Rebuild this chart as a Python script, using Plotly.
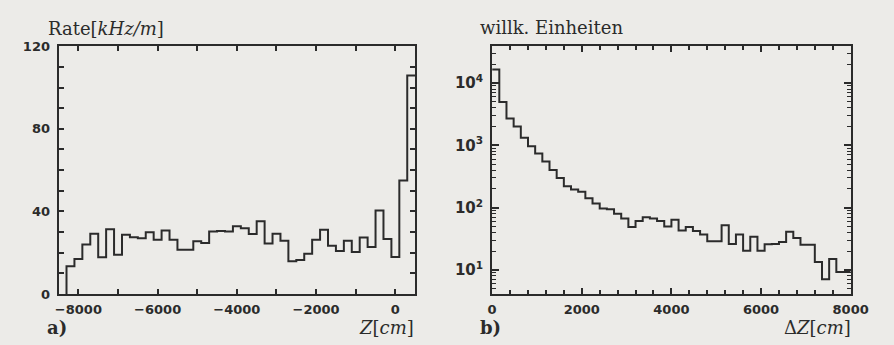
import plotly.graph_objects as go

# ---- Panel a: rate vs Z ----
a_bin_start = -8300
a_bin_width = 200
a_rates = [13.4, 16.9, 24.0, 29.2, 17.8, 31.4, 19.0, 28.7, 27.5, 27.0, 29.9, 26.3,
           30.7, 26.2, 21.4, 21.4, 25.5, 24.7, 30.2, 30.5, 30.2, 32.8, 31.8, 29.1,
           35.2, 24.4, 29.2, 25.8, 15.8, 16.5, 19.5, 26.2, 31.1, 23.4, 20.8, 25.8,
           20.3, 27.4, 22.7, 40.4, 26.6, 17.9, 55.0, 105.8]
a_xticks = [-8000, -6000, -4000, -2000, 0]
a_yticks = [0, 40, 80, 120]

# ---- Panel b: Delta Z distribution (log) ----
b_bin_start = 0
b_bin_width = 160
b_counts = [16500, 4940, 2690, 2000, 1320, 966, 737, 550, 400, 298,
            220, 195, 180, 142, 116, 97, 94, 80, 67, 49,
            61, 70, 67, 61, 50, 64, 43, 49, 42, 37,
            29, 29, 52, 26, 37, 20.3, 34, 20.3, 25.8, 26.0,
            28, 41, 32.7, 25.5, 25.5, 13.4, 7.1, 15.0, 9.3, 9.3]
b_xticks = [0, 2000, 4000, 6000, 8000]
b_yticks = [10, 100, 1000, 10000]
b_yticklabels = ["10<sup>1</sup>", "10<sup>2</sup>", "10<sup>3</sup>", "10<sup>4</sup>"]

INK = "#2b2b2b"
BG = "#ecebe8"
W, H = 894, 345


def px(x):
    return x / W


def py(y):
    return 1 - y / H


a_edges = [a_bin_start + i * a_bin_width for i in range(len(a_rates) + 1)]
b_edges = [b_bin_start + i * b_bin_width for i in range(len(b_counts) + 1)]

fig = go.Figure()
fig.add_trace(go.Scatter(
    x=[a_edges[0]] + a_edges, y=[0] + a_rates + [a_rates[-1]],
    mode="lines", line=dict(shape="hv", color=INK, width=2),
    xaxis="x", yaxis="y", showlegend=False, hoverinfo="skip"))
fig.add_trace(go.Scatter(
    x=b_edges, y=b_counts + [b_counts[-1]],
    mode="lines", line=dict(shape="hv", color=INK, width=2),
    xaxis="x2", yaxis="y2", showlegend=False, hoverinfo="skip"))

tickfont = dict(family="DejaVu Sans", size=13, color=INK, weight="bold")
common = dict(showline=True, linecolor=INK, linewidth=2, mirror="ticks",
              ticks="inside", tickcolor=INK, tickwidth=1.5, showgrid=False,
              zeroline=False)

fig.update_layout(
    width=W, height=H,
    margin=dict(l=0, r=0, t=0, b=0),
    paper_bgcolor=BG, plot_bgcolor=BG,
    xaxis=dict(domain=[px(55), px(421)], range=[-8500, 500],
               tickvals=a_xticks, ticklen=5, tickfont=tickfont,
               minor=dict(dtick=1000, tick0=0, ticks="inside", ticklen=5,
                          tickcolor=INK, tickwidth=1.5),
               anchor="y", ticklabelstandoff=2, **common),
    yaxis=dict(domain=[py(300), py(41)], range=[0, 120],
               tickvals=a_yticks, ticklen=5, tickfont=tickfont,
               minor=dict(dtick=10, tick0=0, ticks="inside", ticklen=5,
                          tickcolor=INK, tickwidth=1.5),
               anchor="x", ticklabelstandoff=4, **common),
    xaxis2=dict(domain=[px(500), px(868)], range=[0, 8000],
                tickvals=b_xticks, ticklen=6, tickfont=tickfont,
                minor=dict(dtick=400, tick0=0, ticks="inside", ticklen=4,
                           tickcolor=INK, tickwidth=1.5),
                anchor="y2", ticklabelstandoff=2, **common),
    yaxis2=dict(domain=[py(300), py(41)], type="log", range=[0.615, 4.59],
                tickvals=b_yticks, ticktext=b_yticklabels, ticklen=7,
                tickfont=dict(family="DejaVu Sans", size=15, color=INK, weight="bold"),
                minor=dict(ticks="inside", ticklen=4, dtick="D1",
                           tickcolor=INK, tickwidth=1.2),
                anchor="x2", ticklabelstandoff=4, **common),
)

serif = dict(family="DejaVu Serif", size=18, color=INK)
ann = [
    dict(x=px(42), y=py(22), text="Rate[<i>kHz/m</i>]", xanchor="left", yanchor="middle", font=serif),
    dict(x=px(486), y=py(21), text="willk. Einheiten", xanchor="left", yanchor="middle", font=serif),
    dict(x=px(41), y=py(335), text="<b>a)</b>", xanchor="left", yanchor="middle", font=serif),
    dict(x=px(486), y=py(335), text="<b>b)</b>", xanchor="left", yanchor="middle", font=serif),
    dict(x=px(422), y=py(335), text="<i>Z</i>[<i>cm</i>]", xanchor="right", yanchor="middle", font=serif),
    dict(x=px(870), y=py(335), text="Δ<i>Z</i>[<i>cm</i>]", xanchor="right", yanchor="middle", font=serif),
]
for a in ann:
    a.update(xref="paper", yref="paper", showarrow=False)
fig.update_layout(annotations=ann)

fig.write_html("out.html")
